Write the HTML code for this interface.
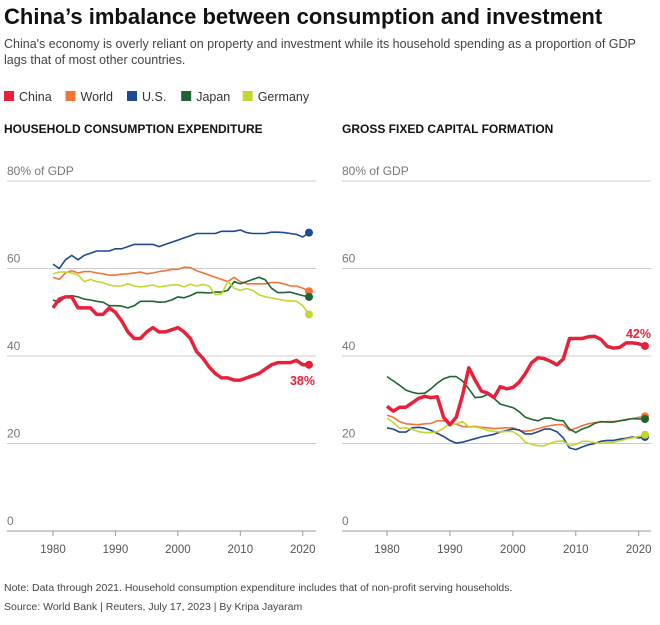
<!DOCTYPE html>
<html><head><meta charset="utf-8"><style>
body{margin:0;width:660px;height:620px;background:#fff;font-family:"Liberation Sans",sans-serif;overflow:hidden}
</style></head><body>
<svg width="660" height="620" xmlns="http://www.w3.org/2000/svg" id="chart">
<text x="4" y="24" font-size="22" font-weight="bold" fill="#111">China’s imbalance between consumption and investment</text>
<text x="4" y="48" font-size="12.5" fill="#444">China's economy is overly reliant on property and investment while its household spending as a proportion of GDP</text>
<text x="4" y="64" font-size="12.5" fill="#444">lags that of most other countries.</text>
<g id="legend"></g>
<text x="4" y="133" font-size="12" font-weight="bold" fill="#111">HOUSEHOLD CONSUMPTION EXPENDITURE</text>
<text x="342" y="133" font-size="12" font-weight="bold" fill="#111">GROSS FIXED CAPITAL FORMATION</text>
<g id="left"></g>
<g id="right"></g>
<text x="4" y="591" font-size="10.5" fill="#444">Note: Data through 2021. Household consumption expenditure includes that of non-profit serving households.</text>
<text x="4" y="610" font-size="10.5" fill="#444">Source: World Bank | Reuters, July 17, 2023 | By Kripa Jayaram</text>
</svg>
<script>
const startYear=1980;
const seriesNames=["World","U.S.","Japan","Germany","China"];
const legendNames=["China","World","U.S.","Japan","Germany"];
const colors={"China":"#e8213a","World":"#f2743a","U.S.":"#1d4a91","Japan":"#1e6532","Germany":"#c6d62e"};
const yTicks=[0,20,40,60,80];
const xTicks=[1980,1990,2000,2010,2020];
const consChina=[51,53,53.5,53.5,51,51,51,49.5,49.5,51,50,48,45.5,44,44,45.5,46.5,45.5,45.5,46,46.5,45.5,44,41,39.5,37.5,36,35,35,34.5,34.5,35,35.5,36,37,38,38.5,38.5,38.5,39,38,38];
const consUS=[61,60,62,63,62,63,63.5,64,64,64,64.5,64.5,65,65.5,65.5,65.5,65.5,65,65.5,66,66.5,67,67.5,68,68,68,68,68.5,68.5,68.5,68.8,68.2,68,68,68,68.3,68.3,68.2,68,67.8,67.2,68.2];
const consWorld=[58,57.5,59,59.5,59,59.3,59.3,59,58.8,58.5,58.5,58.7,58.8,59,59.2,58.8,59,59.3,59.5,59.8,59.8,60.3,60.2,59.5,59,58.5,58,57.5,57,58,57,56.5,56.5,56.5,56.5,56.8,56.8,56.5,56,56,55.5,54.8];
const consGermany=[58.8,59.2,59.2,59,58.5,57,57.5,57,56.8,56.2,56,56,56.5,56,55.8,56,56.2,55.8,56,56.2,56.3,55.8,56.4,56,56.4,56,54,54.2,57,55.5,55,55.4,55,54,53.5,53.3,53,52.7,52.6,52.5,51.5,49.5];
const consJapan=[52.8,52.3,53.5,53.8,53.5,53,52.8,52.5,52.3,51.5,51.5,51.4,51,51.5,52.5,52.5,52.5,52.3,52.4,52.8,53.5,53.3,53.8,54.5,54.5,54.4,54.6,54.6,55,57,56.5,57,57.5,58,57.4,55.5,54.5,54.5,54.6,54.2,53.8,53.5];
const invChina=[28.5,27.4,28.3,28.3,29.3,30.3,30.8,30.5,30.7,26,24.3,26,31,37.3,34.5,32,31.5,30.5,33,32.5,32.8,34,36,38.5,39.6,39.4,38.8,38,39.3,44,44,44,44.4,44.5,43.8,42.2,41.8,42,43,43,42.8,42.3];
const invJapan=[35.3,34.3,33.3,32.2,31.7,31.4,31.5,32.5,33.8,34.8,35.3,35.3,34.3,32.5,30.5,30.6,31.2,30.3,29,28.6,28.2,27.3,26,25.5,25.2,25.8,25.8,25.3,25.2,23.3,22.5,23.3,23.8,24.6,25,24.9,24.9,25.2,25.4,25.7,25.6,25.6];
const invWorld=[26.5,26,25,24.5,24.4,24.3,24.5,24.6,25.2,25.2,24.8,24.4,23.9,23.8,23.9,23.7,23.6,23.4,23.5,23.6,23.6,23,22.8,23,23.4,23.8,24.1,24.3,24.3,23,23.5,24.1,24.5,24.8,24.9,25,25,25.2,25.5,25.7,26,26.2];
const invGermany=[25.8,24.8,23.5,23.6,23.3,22.7,22.5,22.5,22.7,23.5,24.5,24.5,25,23.8,23.8,23.5,23,22.8,22.6,22.8,22.7,21.8,20.3,19.8,19.5,19.5,20.1,20.5,20.6,19.5,19.8,20.5,20.5,20.2,20,20.2,20.3,20.6,21,21.3,21.6,22];
const invUS=[23.6,23.3,22.6,22.6,23.6,23.7,23.5,23,22.3,21.6,20.7,20.1,20.3,20.7,21.1,21.5,21.8,22.1,22.6,23,23.3,23.1,22.2,22.2,22.7,23.3,23.3,22.7,21.3,19,18.6,19.2,19.7,20,20.5,20.7,20.7,21,21.2,21.5,21.3,21.5];

const NS="http://www.w3.org/2000/svg";
function mk(tag,attrs,parent){const e=document.createElementNS(NS,tag);for(const k in attrs)e.setAttribute(k,attrs[k]);parent.appendChild(e);return e;}

// legend
const lg=document.getElementById('legend');
let lx=4;
legendNames.forEach(n=>{
  const g=mk('g',{},lg);
  
  
  mk('rect',{x:lx,y:91,width:10,height:10,fill:colors[n]},g);
  const t=mk('text',{x:lx+15,y:101,'font-size':12.5,fill:'#333'},g);t.textContent=n;
  lx+=15+n.length*7.3+10;
});

function panel(id,x0,x1,lx0,lx1,data,label,labelVal){
  const g=document.getElementById(id);
  const ys=v=>531-v*4.375;
  const xs=yr=>lx0+(yr-startYear)*(lx1-lx0)/41;
  yTicks.forEach(t=>{
    const l=mk('line',{x1:x0,x2:x1,y1:ys(t),y2:ys(t),stroke:t===0?'#999':'#ccc','stroke-width':1},g);
    
    
    const tx=mk('text',{x:x0,y:ys(t)-6,'font-size':12,fill:'#777'},g);
    tx.textContent=t===80?'80% of GDP':String(t);
    
    
  });
  xTicks.forEach(t=>{
    mk('line',{x1:xs(t),x2:xs(t),y1:531,y2:536,stroke:'#999'},g);
    const tx=mk('text',{x:xs(t),y:553,'font-size':11.5,fill:'#555','text-anchor':'middle'},g);
    tx.textContent=t;
    
    
  });
  seriesNames.forEach(n=>{
    const arr=data[n];
    const d=arr.map((v,i)=>(i?'L':'M')+xs(startYear+i).toFixed(1)+' '+ys(v).toFixed(1)).join(' ');
    const p=mk('path',{d:d,fill:'none',stroke:colors[n],'stroke-width':n==='China'?3.5:1.6,'stroke-linejoin':'round'},g);
    
    
    const last=arr.length-1;
    const c=mk('circle',{cx:xs(startYear+last),cy:ys(arr[last]),r:4,fill:colors[n]},g);
    
    
  });
  const ch=data["China"];const li=ch.length-1;
  const t=mk('text',{x:xs(startYear+li)+6,y:ys(ch[li])+labelVal,'font-size':12.5,'font-weight':'bold',fill:colors.China,'text-anchor':'end'},g);
  t.textContent=label;
  
  
}
panel('left',7,316,53,309,{"China":consChina,"World":consWorld,"U.S.":consUS,"Japan":consJapan,"Germany":consGermany},Math.round(consChina[consChina.length-1])+'%',20);
panel('right',342,651,387,645,{"China":invChina,"World":invWorld,"U.S.":invUS,"Japan":invJapan,"Germany":invGermany},Math.round(invChina[invChina.length-1])+'%',-8);
</script>
</body></html>
